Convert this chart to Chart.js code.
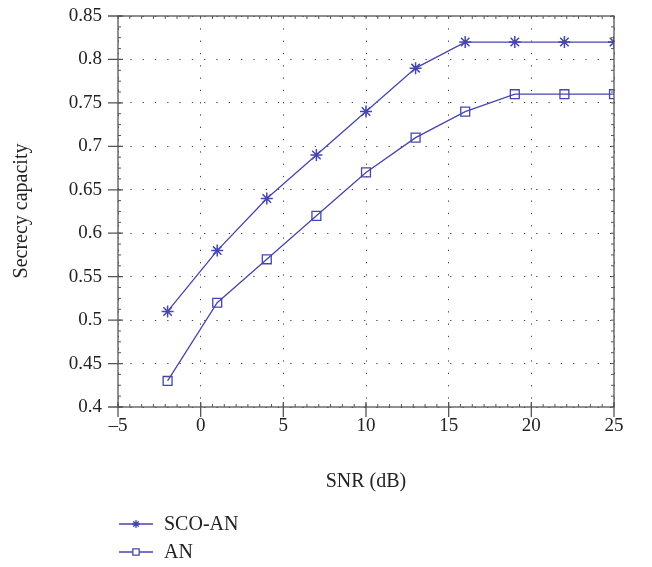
<!DOCTYPE html>
<html>
<head>
<meta charset="utf-8">
<script src="https://cdn.jsdelivr.net/npm/chart.js@4"></script>
<style>
  html, body { margin: 0; padding: 0; background: #fff; }
  #wrap { width: 652px; height: 567px; position: relative; }
</style>
</head>
<body>
<div id="wrap"><canvas id="capChart"></canvas></div>
<script>
// --- data ---
const snrDb = [-2, 1, 4, 7, 10, 13, 16, 19, 22, 25];
const scoAn = [0.51, 0.58, 0.64, 0.69, 0.74, 0.79, 0.82, 0.82, 0.82, 0.82];
const an = [0.43, 0.52, 0.57, 0.62, 0.67, 0.71, 0.74, 0.76, 0.76, 0.76];
const seriesNames = ['SCO-AN', 'AN'];
const xLabel = 'SNR (dB)';
const yLabel = 'Secrecy capacity';

const BLUE = '#4646ac';
const AXIS = '#555';
const FONT = '"Liberation Serif", "DejaVu Serif", serif';

// frame, tick marks, axis titles and legend
const frame = {
    id: 'frame',
    afterDraw(chart) {
        const { ctx, chartArea: a, scales: { x, y } } = chart;
        ctx.save();
        ctx.strokeStyle = AXIS; ctx.lineWidth = 1.3;
        ctx.strokeRect(a.left, a.top, a.right - a.left, a.bottom - a.top);

        ctx.lineWidth = 1;
        ctx.beginPath();
        // minor ticks, inward on all sides
        for (let v = -5; v <= 25.001; v += 5 / 7) {
            const px = x.getPixelForValue(v);
            ctx.moveTo(px, a.bottom); ctx.lineTo(px, a.bottom - 3);
            ctx.moveTo(px, a.top); ctx.lineTo(px, a.top + 3);
        }
        for (let v = 0.4; v <= 0.8501; v += 0.0125) {
            const py = y.getPixelForValue(v);
            ctx.moveTo(a.left, py); ctx.lineTo(a.left + 3, py);
            ctx.moveTo(a.right, py); ctx.lineTo(a.right - 3, py);
        }
        ctx.stroke();

        // major ticks, outward on left and bottom
        ctx.lineWidth = 1.3;
        ctx.beginPath();
        for (let v = -5; v <= 25; v += 5) {
            const px = x.getPixelForValue(v);
            ctx.moveTo(px, a.bottom - 5); ctx.lineTo(px, a.bottom + 10);
        }
        for (let i = 0; i <= 9; i++) {
            const py = y.getPixelForValue(0.4 + i * 0.05);
            ctx.moveTo(a.left - 10, py); ctx.lineTo(a.left + 5, py);
        }
        ctx.stroke();

        // axis titles
        ctx.fillStyle = '#222';
        ctx.font = '20px ' + FONT;
        ctx.textAlign = 'center'; ctx.textBaseline = 'middle';
        ctx.fillText(xLabel, 366, 482);
        ctx.save();
        ctx.translate(22, 211);
        ctx.rotate(-Math.PI / 2);
        ctx.fillText(yLabel, 0, 0);
        ctx.restore();

        // legend
        ctx.textAlign = 'left';
        chart.data.datasets.forEach((ds, i) => {
            const ly = 524 + i * 28;
            ctx.strokeStyle = BLUE; ctx.lineWidth = 1.3;
            ctx.beginPath(); ctx.moveTo(119, ly); ctx.lineTo(153, ly); ctx.stroke();
            ctx.fillStyle = '#fff';
            Chart.helpers.drawPoint(ctx, {
                pointStyle: ds.pointStyle, radius: i === 0 ? 4 : 4.5, borderWidth: 1.3
            }, 136, ly);
            ctx.fillStyle = '#222';
            ctx.fillText(ds.label, 164, ly + 1);
        });
        ctx.restore();
    }
};

new Chart(document.getElementById('capChart'), {
    type: 'line',
    data: {
        datasets: [
            { label: seriesNames[0], data: snrDb.map((v, i) => ({ x: v, y: scoAn[i] })),
              borderColor: BLUE, backgroundColor: BLUE, borderWidth: 1.3,
              pointStyle: 'star', pointRadius: 6, pointBorderWidth: 1.5, tension: 0 },
            { label: seriesNames[1], data: snrDb.map((v, i) => ({ x: v, y: an[i] })),
              borderColor: BLUE, backgroundColor: 'rgba(0,0,0,0)', borderWidth: 1.3,
              pointStyle: 'rect', pointRadius: 6.3, pointBorderWidth: 1.3, tension: 0 }
        ]
    },
    options: {
        responsive: true, maintainAspectRatio: false, animation: false,
        layout: { padding: { top: 16, right: 38, left: 0, bottom: 0 } },
        plugins: { legend: { display: false }, tooltip: { enabled: false } },
        scales: {
            x: {
                type: 'linear', min: -5, max: 25,
                afterFit: s => { s.height = 160; s.paddingLeft = 0; s.paddingRight = 0; },
                border: { display: false, dash: [1.3, 11] },
                grid: { color: '#444', lineWidth: 1, drawTicks: false },
                ticks: {
                    stepSize: 5, padding: 8, color: '#222',
                    font: { family: FONT, size: 19 },
                    callback: v => v < 0 ? '\u2013' + Math.abs(v) : '' + v
                }
            },
            y: {
                min: 0.4, max: 0.85,
                afterFit: s => { s.width = 118; s.paddingTop = 0; s.paddingBottom = 0; },
                border: { display: false, dash: [1.3, 11] },
                grid: { color: '#444', lineWidth: 1, drawTicks: false },
                ticks: {
                    stepSize: 0.05, padding: 16, color: '#222',
                    font: { family: FONT, size: 19 },
                    callback: v => '' + (+v.toFixed(2))
                }
            }
        }
    },
    plugins: [frame]
});
</script>
</body>
</html>
